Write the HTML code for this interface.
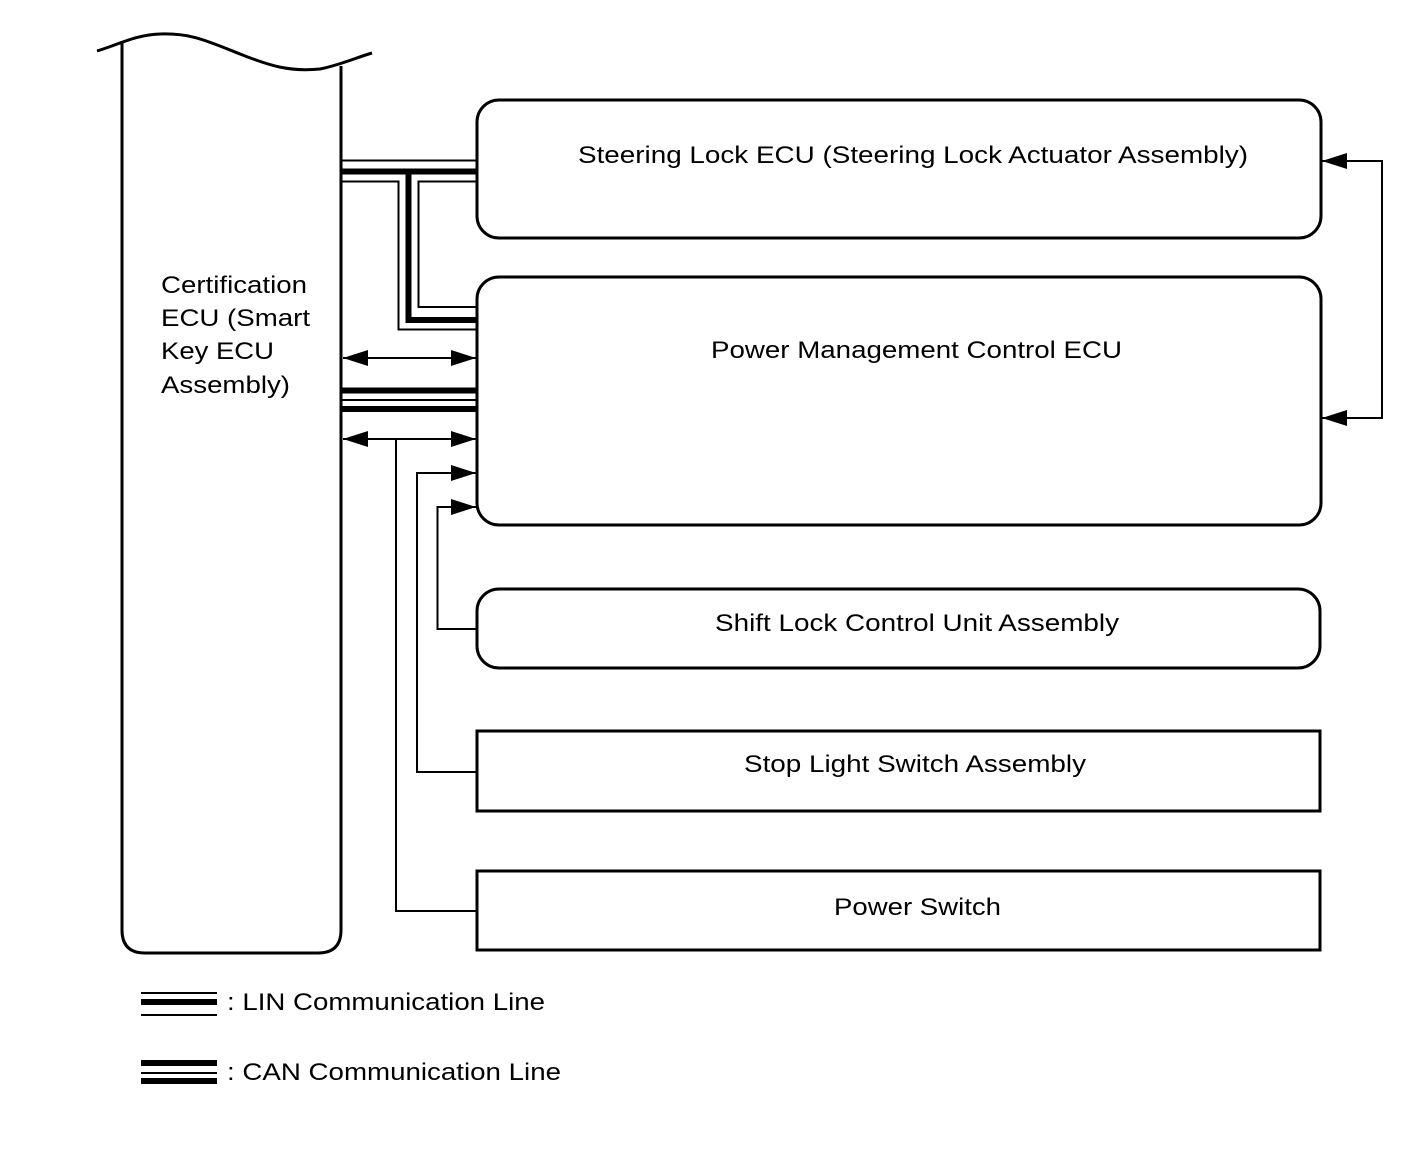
<!DOCTYPE html>
<html><head><meta charset="utf-8"><style>html,body{margin:0;padding:0;background:#fff}svg{display:block}text{font-family:"Liberation Sans",Arial,sans-serif;font-size:24px;fill:#000}</style></head>
<body>
<svg width="1421" height="1157" viewBox="0 0 1421 1157" xmlns="http://www.w3.org/2000/svg">
<defs>
<marker id="a" viewBox="0 0 25 16" refX="25" refY="8" markerWidth="25" markerHeight="16" markerUnits="userSpaceOnUse" orient="auto-start-reverse"><path d="M0,0 L25,8 L0,16 Z" fill="#000"/></marker>
</defs>
<g fill="none" stroke="#000">
<path d="M97,51 C120,44 135,35 160,34 C190,33 205,40 240,54 C270,66 290,72 320,69 C340,65 355,58 372,53" stroke-width="3"/>
<path d="M122,42 V930 Q122,953 145,953 H318 Q341,953 341,930 V66" stroke-width="3"/>
<rect x="477" y="100" width="844" height="138" rx="22" stroke-width="3"/>
<rect x="477" y="277" width="844" height="248" rx="22" stroke-width="3"/>
<rect x="477" y="589" width="843" height="79" rx="22" stroke-width="3"/>
<rect x="477" y="731" width="843" height="80" stroke-width="3"/>
<rect x="477" y="871" width="843" height="79" stroke-width="3"/>
<path d="M342,160.5 H476" stroke-width="2"/>
<path d="M342,171.5 H476" stroke-width="6"/>
<path d="M342,181.5 H398.5 V329.5 H476" stroke-width="2"/>
<path d="M476,181.5 H418.5 V307 H476" stroke-width="2"/>
<path d="M408.5,171.5 V320 H476" stroke-width="6"/>
<path d="M342,390.5 H476" stroke-width="6"/>
<path d="M342,400 H476" stroke-width="2"/>
<path d="M342,409 H476" stroke-width="6"/>
<path d="M343,358 H476" stroke-width="2" marker-start="url(#a)" marker-end="url(#a)"/>
<path d="M343,439 H476" stroke-width="2" marker-start="url(#a)" marker-end="url(#a)"/>
<path d="M396,439 V911 H477" stroke-width="2"/>
<path d="M477,772 H417 V473 H476" stroke-width="2" marker-end="url(#a)"/>
<path d="M477,629 H437.5 V507 H476" stroke-width="2" marker-end="url(#a)"/>
<path d="M1322,161 H1382 V418 H1322" stroke-width="2" marker-start="url(#a)" marker-end="url(#a)"/>
<path d="M141,993 H217" stroke-width="2"/>
<path d="M141,1002 H217" stroke-width="6"/>
<path d="M141,1015 H217" stroke-width="2"/>
<path d="M141,1063 H217" stroke-width="6"/>
<path d="M141,1073 H217" stroke-width="2"/>
<path d="M141,1081 H217" stroke-width="6"/>
</g>
<g style="font-size:25.5px">
<text x="161" y="293" textLength="146" lengthAdjust="spacingAndGlyphs">Certification</text>
<text x="161" y="326" textLength="149" lengthAdjust="spacingAndGlyphs">ECU (Smart</text>
<text x="161" y="359" textLength="113" lengthAdjust="spacingAndGlyphs">Key ECU</text>
<text x="161" y="393" textLength="129" lengthAdjust="spacingAndGlyphs">Assembly)</text>
</g>
<text x="578" y="163" textLength="670" lengthAdjust="spacingAndGlyphs">Steering Lock ECU (Steering Lock Actuator Assembly)</text>
<text x="711" y="358" textLength="411" lengthAdjust="spacingAndGlyphs">Power Management Control ECU</text>
<text x="715" y="631" textLength="404" lengthAdjust="spacingAndGlyphs">Shift Lock Control Unit Assembly</text>
<text x="744" y="772" textLength="342" lengthAdjust="spacingAndGlyphs">Stop Light Switch Assembly</text>
<text x="834" y="915" textLength="167" lengthAdjust="spacingAndGlyphs">Power Switch</text>
<text x="227" y="1010" textLength="318" lengthAdjust="spacingAndGlyphs">: LIN Communication Line</text>
<text x="227" y="1080" textLength="334" lengthAdjust="spacingAndGlyphs">: CAN Communication Line</text>
</svg>
</body></html>
